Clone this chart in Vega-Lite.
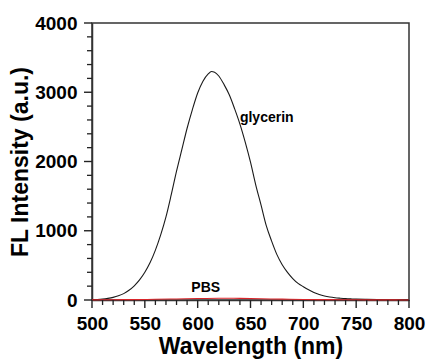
{
  "$schema": "https://vega.github.io/schema/vega-lite/v6.json",
  "width": 317,
  "height": 277,
  "autosize": {"type": "none"},
  "padding": {"left": 92, "top": 23, "right": 19, "bottom": 62},
  "background": "white",
  "config": {
    "view": {"stroke": "#333", "strokeWidth": 1.5},
    "font": "Liberation Sans",
    "axis": {
      "grid": false,
      "domainColor": "#333",
      "domainWidth": 1.5,
      "tickColor": "#222",
      "tickWidth": 1.5,
      "labelFontSize": 19,
      "labelFontWeight": "bold",
      "labelColor": "#000",
      "labelFlush": false,
      "labelOverlap": false,
      "titleFontSize": 23,
      "titleFontWeight": "bold",
      "titleColor": "#000"
    }
  },
  "datasets": {
    "spectra": [
      {"sample": "glycerin", "wavelength": 500, "intensity": 5},
      {"sample": "glycerin", "wavelength": 505, "intensity": 8},
      {"sample": "glycerin", "wavelength": 510, "intensity": 14},
      {"sample": "glycerin", "wavelength": 515, "intensity": 24},
      {"sample": "glycerin", "wavelength": 520, "intensity": 38},
      {"sample": "glycerin", "wavelength": 525, "intensity": 60},
      {"sample": "glycerin", "wavelength": 530, "intensity": 92},
      {"sample": "glycerin", "wavelength": 535, "intensity": 140},
      {"sample": "glycerin", "wavelength": 540, "intensity": 205},
      {"sample": "glycerin", "wavelength": 545, "intensity": 290},
      {"sample": "glycerin", "wavelength": 550, "intensity": 400},
      {"sample": "glycerin", "wavelength": 555, "intensity": 540},
      {"sample": "glycerin", "wavelength": 560, "intensity": 720},
      {"sample": "glycerin", "wavelength": 565, "intensity": 940},
      {"sample": "glycerin", "wavelength": 570, "intensity": 1200},
      {"sample": "glycerin", "wavelength": 575, "intensity": 1520},
      {"sample": "glycerin", "wavelength": 580, "intensity": 1860},
      {"sample": "glycerin", "wavelength": 585, "intensity": 2170},
      {"sample": "glycerin", "wavelength": 590, "intensity": 2480},
      {"sample": "glycerin", "wavelength": 595, "intensity": 2750},
      {"sample": "glycerin", "wavelength": 600, "intensity": 2990},
      {"sample": "glycerin", "wavelength": 605, "intensity": 3160},
      {"sample": "glycerin", "wavelength": 610, "intensity": 3265},
      {"sample": "glycerin", "wavelength": 613, "intensity": 3300},
      {"sample": "glycerin", "wavelength": 616, "intensity": 3290},
      {"sample": "glycerin", "wavelength": 620, "intensity": 3235},
      {"sample": "glycerin", "wavelength": 625, "intensity": 3110},
      {"sample": "glycerin", "wavelength": 630, "intensity": 2960},
      {"sample": "glycerin", "wavelength": 635, "intensity": 2760},
      {"sample": "glycerin", "wavelength": 640, "intensity": 2540},
      {"sample": "glycerin", "wavelength": 645, "intensity": 2280},
      {"sample": "glycerin", "wavelength": 650, "intensity": 1990},
      {"sample": "glycerin", "wavelength": 655, "intensity": 1660},
      {"sample": "glycerin", "wavelength": 660, "intensity": 1370},
      {"sample": "glycerin", "wavelength": 665, "intensity": 1070},
      {"sample": "glycerin", "wavelength": 670, "intensity": 850},
      {"sample": "glycerin", "wavelength": 675, "intensity": 655},
      {"sample": "glycerin", "wavelength": 680, "intensity": 510},
      {"sample": "glycerin", "wavelength": 685, "intensity": 400},
      {"sample": "glycerin", "wavelength": 690, "intensity": 310},
      {"sample": "glycerin", "wavelength": 695, "intensity": 240},
      {"sample": "glycerin", "wavelength": 700, "intensity": 192},
      {"sample": "glycerin", "wavelength": 705, "intensity": 148},
      {"sample": "glycerin", "wavelength": 710, "intensity": 110},
      {"sample": "glycerin", "wavelength": 715, "intensity": 80},
      {"sample": "glycerin", "wavelength": 720, "intensity": 58},
      {"sample": "glycerin", "wavelength": 725, "intensity": 43},
      {"sample": "glycerin", "wavelength": 730, "intensity": 33},
      {"sample": "glycerin", "wavelength": 735, "intensity": 26},
      {"sample": "glycerin", "wavelength": 740, "intensity": 20},
      {"sample": "glycerin", "wavelength": 745, "intensity": 16},
      {"sample": "glycerin", "wavelength": 750, "intensity": 13},
      {"sample": "glycerin", "wavelength": 760, "intensity": 9},
      {"sample": "glycerin", "wavelength": 770, "intensity": 6},
      {"sample": "glycerin", "wavelength": 780, "intensity": 4},
      {"sample": "glycerin", "wavelength": 790, "intensity": 3},
      {"sample": "glycerin", "wavelength": 800, "intensity": 2},
      {"sample": "PBS", "wavelength": 500, "intensity": 2},
      {"sample": "PBS", "wavelength": 520, "intensity": 4},
      {"sample": "PBS", "wavelength": 540, "intensity": 6},
      {"sample": "PBS", "wavelength": 560, "intensity": 10},
      {"sample": "PBS", "wavelength": 580, "intensity": 15},
      {"sample": "PBS", "wavelength": 600, "intensity": 22},
      {"sample": "PBS", "wavelength": 620, "intensity": 26},
      {"sample": "PBS", "wavelength": 640, "intensity": 24},
      {"sample": "PBS", "wavelength": 660, "intensity": 18},
      {"sample": "PBS", "wavelength": 680, "intensity": 12},
      {"sample": "PBS", "wavelength": 700, "intensity": 8},
      {"sample": "PBS", "wavelength": 725, "intensity": 5},
      {"sample": "PBS", "wavelength": 750, "intensity": 3},
      {"sample": "PBS", "wavelength": 775, "intensity": 2},
      {"sample": "PBS", "wavelength": 800, "intensity": 1}
    ],
    "labels": [
      {"text": "glycerin", "wavelength": 640, "intensity": 2630},
      {"text": "PBS", "wavelength": 594, "intensity": 170}
    ],
    "xticks": [
      {"wavelength": 500, "kind": "major"}, {"wavelength": 510, "kind": "minor"}, {"wavelength": 520, "kind": "minor"}, {"wavelength": 530, "kind": "minor"}, {"wavelength": 540, "kind": "minor"},
      {"wavelength": 550, "kind": "major"}, {"wavelength": 560, "kind": "minor"}, {"wavelength": 570, "kind": "minor"}, {"wavelength": 580, "kind": "minor"}, {"wavelength": 590, "kind": "minor"},
      {"wavelength": 600, "kind": "major"}, {"wavelength": 610, "kind": "minor"}, {"wavelength": 620, "kind": "minor"}, {"wavelength": 630, "kind": "minor"}, {"wavelength": 640, "kind": "minor"},
      {"wavelength": 650, "kind": "major"}, {"wavelength": 660, "kind": "minor"}, {"wavelength": 670, "kind": "minor"}, {"wavelength": 680, "kind": "minor"}, {"wavelength": 690, "kind": "minor"},
      {"wavelength": 700, "kind": "major"}, {"wavelength": 710, "kind": "minor"}, {"wavelength": 720, "kind": "minor"}, {"wavelength": 730, "kind": "minor"}, {"wavelength": 740, "kind": "minor"},
      {"wavelength": 750, "kind": "major"}, {"wavelength": 760, "kind": "minor"}, {"wavelength": 770, "kind": "minor"}, {"wavelength": 780, "kind": "minor"}, {"wavelength": 790, "kind": "minor"},
      {"wavelength": 800, "kind": "major"}
    ],
    "yticks": [
      {"intensity": 0, "kind": "major"}, {"intensity": 200, "kind": "minor"}, {"intensity": 400, "kind": "minor"}, {"intensity": 600, "kind": "minor"}, {"intensity": 800, "kind": "minor"},
      {"intensity": 1000, "kind": "major"}, {"intensity": 1200, "kind": "minor"}, {"intensity": 1400, "kind": "minor"}, {"intensity": 1600, "kind": "minor"}, {"intensity": 1800, "kind": "minor"},
      {"intensity": 2000, "kind": "major"}, {"intensity": 2200, "kind": "minor"}, {"intensity": 2400, "kind": "minor"}, {"intensity": 2600, "kind": "minor"}, {"intensity": 2800, "kind": "minor"},
      {"intensity": 3000, "kind": "major"}, {"intensity": 3200, "kind": "minor"}, {"intensity": 3400, "kind": "minor"}, {"intensity": 3600, "kind": "minor"}, {"intensity": 3800, "kind": "minor"},
      {"intensity": 4000, "kind": "major"}
    ]
  },
  "layer": [
    {
      "data": {"name": "spectra"},
      "mark": {"type": "line", "strokeWidth": 1.1, "interpolate": "monotone"},
      "encoding": {
        "x": {
          "field": "wavelength",
          "type": "quantitative",
          "scale": {"domain": [500, 800], "nice": false},
          "axis": {
            "values": [500, 550, 600, 650, 700, 750, 800],
            "format": "d",
            "ticks": false,
            "labelPadding": 14,
            "title": "Wavelength (nm)",
            "titlePadding": 2,
            "zindex": 0
          }
        },
        "y": {
          "field": "intensity",
          "type": "quantitative",
          "scale": {"domain": [0, 4000], "nice": false},
          "axis": {
            "values": [0, 1000, 2000, 3000, 4000],
            "format": "d",
            "ticks": false,
            "labelPadding": 15,
            "title": "FL Intensity (a.u.)",
            "titlePadding": 2,
            "zindex": 0
          }
        },
        "color": {
          "field": "sample",
          "type": "nominal",
          "scale": {"domain": ["glycerin", "PBS"], "range": ["#1a1a1a", "#d9262b"]},
          "legend": null
        }
      }
    },
    {
      "data": {"name": "xticks"},
      "transform": [{"filter": "datum.kind === 'major'"}],
      "mark": {"type": "tick", "orient": "vertical", "size": 8, "thickness": 1.4, "yOffset": 4, "color": "#222", "opacity": 1, "zindex": 2},
      "encoding": {
        "x": {"field": "wavelength", "type": "quantitative"},
        "y": {"datum": 0, "type": "quantitative"}
      }
    },
    {
      "data": {"name": "xticks"},
      "transform": [{"filter": "datum.kind === 'minor'"}],
      "mark": {"type": "tick", "orient": "vertical", "size": 5, "thickness": 1.3, "yOffset": 2.5, "color": "#222", "opacity": 1, "zindex": 2},
      "encoding": {
        "x": {"field": "wavelength", "type": "quantitative"},
        "y": {"datum": 0, "type": "quantitative"}
      }
    },
    {
      "data": {"name": "yticks"},
      "transform": [{"filter": "datum.kind === 'major'"}],
      "mark": {"type": "tick", "orient": "horizontal", "size": 8, "thickness": 1.4, "xOffset": -4, "color": "#222", "opacity": 1, "zindex": 2},
      "encoding": {
        "y": {"field": "intensity", "type": "quantitative"},
        "x": {"datum": 500, "type": "quantitative"}
      }
    },
    {
      "data": {"name": "yticks"},
      "transform": [{"filter": "datum.kind === 'minor'"}],
      "mark": {"type": "tick", "orient": "horizontal", "size": 5, "thickness": 1.3, "xOffset": -2.5, "color": "#222", "opacity": 1, "zindex": 2},
      "encoding": {
        "y": {"field": "intensity", "type": "quantitative"},
        "x": {"datum": 500, "type": "quantitative"}
      }
    },
    {
      "data": {"name": "labels"},
      "mark": {"type": "text", "fontWeight": "bold", "fontSize": 14, "align": "left", "baseline": "middle", "color": "#000"},
      "encoding": {
        "x": {"field": "wavelength", "type": "quantitative"},
        "y": {"field": "intensity", "type": "quantitative"},
        "text": {"field": "text", "type": "nominal"}
      }
    }
  ]
}
